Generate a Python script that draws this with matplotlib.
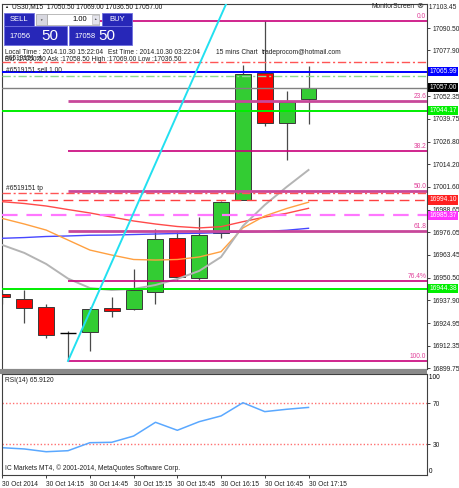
import matplotlib
matplotlib.use('Agg')
import matplotlib.pyplot as plt
import matplotlib.transforms as mtransforms
from matplotlib.patches import Rectangle

plt.rcParams['font.family'] = ['Liberation Sans', 'DejaVu Sans']

W, H = 459, 488

# --- data (US30, M15, 30 Oct 2014) ---
bar_times = ['13:45', '14:00', '14:15', '14:30', '14:45', '15:00', '15:15', '15:30',
             '15:45', '16:00', '16:15', '16:30', '16:45', '17:00', '17:15']
opens = [16941.4, 16938.4, 16934.2, 16919.3, 16920.2, 16933.3, 16932.8, 16942.3,
         16972.6, 16950.2, 16975.7, 16994.1, 17065.4, 17037.1, 17050.5]
highs = [16943.5, 16943.6, 16935.8, 16920.8, 16934.2, 16939.5, 16955.4, 16977.6,
         16976.7, 16984.4, 16993.5, 17069.8, 17094.6, 17055.2, 17069.0]
lows = [16936.0, 16924.9, 16916.5, 16903.8, 16909.6, 16928.6, 16932.5, 16935.6,
        16949.2, 16949.2, 16973.0, 16993.8, 17035.6, 17016.5, 17036.5]
closes = [16939.4, 16933.3, 16918.4, 16919.3, 16932.8, 16932.0, 16943.6, 16972.2,
          16950.7, 16974.4, 16993.1, 17064.7, 17037.1, 17049.2, 17057.0]

ma_red = [16993.1, 16992.1, 16990.7, 16988.7, 16986.8, 16984.5, 16982.3, 16980.6,
          16979.2, 16978.4, 16979.1, 16981.9, 16984.5, 16986.6, 16989.4]
ma_orange = [16983.7, 16980.6, 16977.2, 16971.6, 16966.0, 16963.2, 16960.7, 16960.4,
             16960.7, 16962.1, 16965.1, 16978.4, 16985.1, 16989.3, 16992.8]
ma_gray = [16968.8, 16964.4, 16958.2, 16950.0, 16944.7, 16943.6, 16944.2, 16946.4,
           16949.8, 16954.3, 16962.1, 16979.5, 16991.3, 17001.4, 17010.9]
ma_blue = [16972.6, 16973.0, 16973.6, 16973.9, 16974.3, 16974.4, 16974.7, 16975.0,
           16975.3, 16975.4, 16975.8, 16976.1, 16976.4, 16977.1, 16978.2]

rsi = [26.6, 25.4, 22.7, 23.7, 31.5, 31.9, 38.0, 51.4, 43.6, 52.0, 57.6, 70.5,
       61.8, 64.1, 65.91]

fib_prices = [17094.6, 17049.6, 17021.7, 16999.2, 16976.7, 16948.8, 16903.8]
fib_names = ['0.0', '23.6', '38.2', '50.0', '61.8', '76.4%', '100.0']
fib_start = 3

trend_start = (3, 16903.8)
trend_next = (9, 17069.9)

price_ticks = [17090.50, 17077.90, 17052.35, 17039.75, 17026.80, 17014.20, 17001.60,
               16988.65, 16976.05, 16963.45, 16950.50, 16937.90, 16924.95, 16912.35,
               16899.75]
price_top = 17103.45

sl_price, open_price, tp_price = 17071.3, 17063.8, 16997.8
blue_level, bid_level, green_hi, green_lo = 17065.99, 17057.00, 17044.17, 16944.38
red_level, magenta_level = 16994.10, 16985.37

time_ticks = [0, 2, 4, 6, 8, 10, 12, 14]
time_labels = ['30 Oct 2014'] + ['30 Oct ' + bar_times[i] for i in time_ticks[1:]]

FS = 4.8
x = list(range(len(bar_times)))

fig = plt.figure(figsize=(W / 100, H / 100), dpi=100, facecolor='white')
ax = fig.add_axes([2 / W, 1 - 369 / H, 425 / W, 365 / H])
ax2 = fig.add_axes([2 / W, 1 - 475 / H, 425 / W, 101 / H])

xlim = (-0.02, 19.42)
ax.set_xlim(*xlim)
ax.set_ylim(16899.3, 17103.96)

# candles
for i in x:
    o, h, l, c = opens[i], highs[i], lows[i], closes[i]
    ax.vlines(i, l, h, color='#4a4a4a', lw=0.9, zorder=2)
    if abs(c - o) < 0.05:
        ax.hlines(c, i - 0.36, i + 0.36, color='black', lw=1.0, zorder=3)
    else:
        col = '#33cc33' if c > o else '#ff0000'
        ax.bar(i, abs(c - o), bottom=min(o, c), width=0.73, color=col,
               edgecolor='#3a3a3a', lw=0.7, zorder=3)

# moving averages
ax.plot(x, ma_blue, color='#4646ff', lw=1.0, zorder=5)
ax.plot(x, ma_red, color='#ff4a4a', lw=1.0, zorder=5)
ax.plot(x, ma_orange, color='#ffa040', lw=1.0, zorder=5)
ax.plot(x, ma_gray, color='#b4b4b4', lw=1.4, zorder=5)

# fibonacci
yb = mtransforms.blended_transform_factory(ax.transAxes, ax.transData)
for p, name in zip(fib_prices, fib_names):
    thick = name in ('23.6', '50.0', '61.8')
    ax.hlines(p, fib_start, xlim[1], color='#c8479a' if thick else '#c8007a',
              lw=2.0 if thick else 1.2, zorder=6)
    ax.text(0.998, p + 0.6, name, transform=yb, ha='right', va='bottom',
            fontsize=FS, color='#e0409a', zorder=7)

# horizontal lines
ax.axhline(bid_level, color='#808080', lw=1.0, zorder=6)
ax.axhline(sl_price, color='#ff5555', lw=1.0, ls=(0, (6, 2, 1.5, 2)), zorder=6)
ax.axhline(open_price, color='#90d890', lw=1.0, ls=(0, (6, 2, 1.5, 2)), zorder=6)
ax.axhline(tp_price, color='#ff5555', lw=1.0, ls=(0, (6, 2, 1.5, 2)), zorder=6)
ax.axhline(blue_level, color='#0000ff', lw=1.4, zorder=6)
ax.axhline(green_hi, color='#00ee00', lw=1.4, zorder=6)
ax.axhline(green_lo, color='#00ee00', lw=1.4, zorder=6)
ax.axhline(red_level, color='#ff4040', lw=1.0, ls=(0, (7, 4)), zorder=6)
ax.axhline(magenta_level, color='#ff77ff', lw=1.6, ls=(0, (7, 4)), zorder=6)

# trend line (ray from the low)
slope = (trend_next[1] - trend_start[1]) / (trend_next[0] - trend_start[0])
ax.plot([trend_start[0], trend_start[0] + 9], [trend_start[1], trend_start[1] + slope * 9],
        color='#22e0f0', lw=1.4, zorder=7)

# price axis
ax.yaxis.tick_right()
ax.set_yticks(price_ticks)
ax.set_yticklabels(['%.2f' % v for v in price_ticks])
ax.tick_params(axis='y', labelsize=FS, length=2.5, width=0.6, pad=1.5, colors='#202020')
ax.set_xticks([])
ax.text(1.0, 1.0, ' %.2f' % price_top, transform=ax.transAxes, fontsize=FS,
        ha='left', va='top', color='#202020')
for s in ax.spines.values():
    s.set_color('#404040')
    s.set_linewidth(0.8)

boxes = [(blue_level, '#0000ff', 'white'), (bid_level, 'black', 'white'),
         (green_hi, '#00ee00', 'white'), (red_level, '#ff2020', 'white'),
         (magenta_level, '#ff33ff', 'white'), (green_lo, '#00ee00', 'white')]
for p, fc, tc in boxes:
    ax.text(1.006, p, '%.2f' % p, transform=yb, ha='left', va='center',
            fontsize=FS, color=tc, clip_on=False, zorder=9,
            bbox=dict(boxstyle='square,pad=0.18', fc=fc, ec='none'))

# RSI panel
ax2.set_xlim(*xlim)
ax2.set_ylim(0, 98.5)
ax2.axhline(70, color='#ff7070', lw=1.0, ls=(0, (1, 1.5)))
ax2.axhline(30, color='#ff7070', lw=1.0, ls=(0, (1, 1.5)))
ax2.plot(x, rsi, color='#5aa8ff', lw=1.1)
ax2.yaxis.tick_right()
ax2.set_yticks([70, 30])
ax2.set_yticklabels(['70', '30'])
ax2.tick_params(axis='y', labelsize=FS, length=2.5, width=0.6, pad=1.5, colors='#202020')
ax2.text(1.0, 1.0, ' 100', transform=ax2.transAxes, fontsize=FS, ha='left', va='top')
ax2.text(1.0, 0.0, ' 0', transform=ax2.transAxes, fontsize=FS, ha='left', va='bottom')
ax2.set_xticks(time_ticks)
ax2.set_xticklabels(time_labels, ha='left')
ax2.tick_params(axis='x', labelsize=FS, length=2.5, width=0.6, pad=1.5, colors='#202020')
for s in ax2.spines.values():
    s.set_color('#404040')
    s.set_linewidth(0.8)
ax2.text(0.008, 0.97, 'RSI(14) 65.9120', transform=ax2.transAxes, fontsize=FS,
         ha='left', va='top', color='#202020')
ax2.text(0.008, 0.03, 'IC Markets MT4, \u00a9 2001-2014, MetaQuotes Software Corp.',
         transform=ax2.transAxes, fontsize=FS, ha='left', va='bottom', color='#202020')

# overlay in pixel coordinates for the terminal widgets
ov = fig.add_axes([0, 0, 1, 1], zorder=20)
ov.set_xlim(0, W)
ov.set_ylim(H, 0)
ov.axis('off')
ov.patch.set_alpha(0)

ov.add_patch(Rectangle((0, 369), 427, 5, fc='#8a8a8a', ec='none'))

ov.text(4, 6.5, '\u25b2', fontsize=3, va='center', color='#202020')
ov.text(12, 6.5, 'US30,M15  17050.50 17069.00 17036.50 17057.00', fontsize=FS,
        va='center', color='#101010')
ov.text(372, 6.5, 'MonitorScreen', fontsize=FS, va='center', color='#202020')
ov.text(416, 6.5, '\u2297', fontsize=6, va='center', color='#404040')

blue = '#2727b8'
edge = '#7070e0'
ov.add_patch(Rectangle((4, 13), 30, 13, fc=blue, ec=edge, lw=0.6))
ov.text(19, 19.5, 'SELL', fontsize=5.5, color='white', ha='center', va='center')
ov.add_patch(Rectangle((36, 14), 11, 11, fc='#d8d8e0', ec='#a0a0a0', lw=0.5))
ov.text(41.5, 19.5, '\u25bc', fontsize=2.5, color='#505050', ha='center', va='center')
ov.add_patch(Rectangle((47, 14), 52, 11, fc='white', ec='#a0a0a0', lw=0.5))
ov.text(87, 19.5, '1.00', fontsize=5.5, color='black', ha='right', va='center')
ov.add_patch(Rectangle((92, 15), 7, 9, fc='#e4e4ec', ec='#b0b0b0', lw=0.4))
ov.text(95.5, 19.5, '\u25b2', fontsize=2.5, color='#505050', ha='center', va='center')
ov.add_patch(Rectangle((102, 13), 30, 13, fc=blue, ec=edge, lw=0.6))
ov.text(117, 19.5, 'BUY', fontsize=5.5, color='white', ha='center', va='center')
ov.add_patch(Rectangle((4, 26), 63, 19, fc=blue, ec=edge, lw=0.6))
ov.text(9, 37, '17056', fontsize=5.5, color='white', ha='left', va='center')
ov.text(41, 36, '50', fontsize=11, color='white', ha='left', va='center')
ov.add_patch(Rectangle((69, 26), 63, 19, fc=blue, ec=edge, lw=0.6))
ov.text(74, 37, '17058', fontsize=5.5, color='white', ha='left', va='center')
ov.text(98, 36, '50', fontsize=11, color='white', ha='left', va='center')

txt = '#202020'
ov.text(5, 52, 'Local Time : 2014.10.30 15:22:04', fontsize=FS, va='center', color=txt)
ov.text(108, 52, 'Est Time : 2014.10.30 03:22:04', fontsize=FS, va='center', color=txt)
ov.text(216, 52, '15 mins Chart', fontsize=FS, va='center', color=txt)
ov.text(262, 52, 'tradeprocom@hotmail.com', fontsize=FS, va='center', color=txt)
# the order label and the price line are drawn over each other in the terminal
ov.text(5, 59, '#6519151 sl', fontsize=FS, va='center', color=txt)
ov.text(5, 59.5, 'Bid :17050.50 Ask :17058.50 High :17069.00 Low :17036.50',
        fontsize=FS, va='center', color=txt)
ov.text(6, 71, '#6519151 sell 1.00', fontsize=FS, va='center', color=txt)
ov.text(6, 189, '#6519151 tp', fontsize=FS, va='center', color=txt)

fig.savefig('out.png', dpi=100, facecolor='white')
